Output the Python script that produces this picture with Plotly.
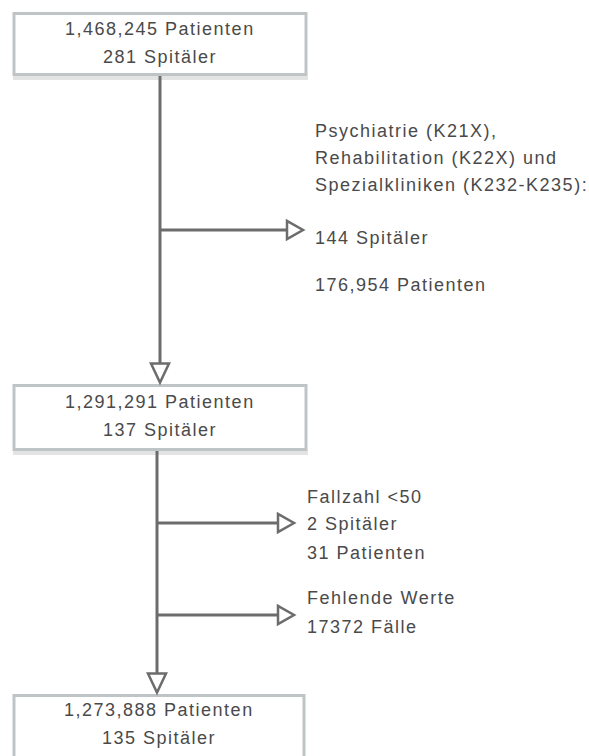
import plotly.graph_objects as go

# ---- data ----
box_patients = ["1,468,245", "1,291,291", "1,273,888"]
box_hospitals = ["281", "137", "135"]
excl1_header = ["Psychiatrie (K21X),", "Rehabilitation (K22X) und", "Spezialkliniken (K232-K235):"]
excl1_hospitals = "144"
excl1_patients = "176,954"
excl2_header = "Fallzahl <50"
excl2_hospitals = "2"
excl2_patients = "31"
excl3_header = "Fehlende Werte"
excl3_cases = "17372"

# ---- layout (pixel geometry) ----
W, H = 589, 756
BOX_X = [(14, 306), (14, 306), (14, 304)]
BOX_Y = [(13.5, 74.5), (385.5, 449.5), (695.5, 790)]
BOX_TEXT_Y = [(29, 57), (401.5, 430), (710, 737.5)]
TRUNK_X = [160, 157]
BRANCH_Y = [230, 523, 615]
BRANCH_TIP = [303, 294, 294]
TEXT_X1, TEXT_X2 = 313, 305

LINE = "#6c6c6c"
BORDER = "#bfc4c7"
SHADOW = "#e3e3e3"
TXT = "#4a4a4a"
FONT = dict(family="Liberation Sans, Arial, sans-serif", size=18, color=TXT)


def sp(t):
    return '<span style="letter-spacing:1.5px">' + t + '</span>'


fig = go.Figure()
shapes = []
ann = []

# boxes
for (x0, x1), (y0, y1), (ty1, ty2), p, h in zip(BOX_X, BOX_Y, BOX_TEXT_Y, box_patients, box_hospitals):
    shapes.append(dict(type="rect", x0=x0 - 1, x1=x1 + 2, y0=y1 + 1.5, y1=y1 + 5.5,
                       line=dict(width=0), fillcolor=SHADOW, layer="below"))
    shapes.append(dict(type="rect", x0=x0, x1=x1, y0=y0, y1=y1,
                       line=dict(color=BORDER, width=3), fillcolor="white", layer="below"))
    cx = (x0 + x1) / 2
    ann.append(dict(x=cx, y=ty1, text=sp(p + " Patienten"), xanchor="center", yanchor="middle"))
    ann.append(dict(x=cx, y=ty2, text=sp(h + " Spitäler"), xanchor="center", yanchor="middle"))


def arrow_down(x, tip):
    return dict(type="path", path=f"M {x-9},{tip-19} L {x+9},{tip-19} L {x},{tip} Z",
                line=dict(color=LINE, width=2.5), fillcolor="white")


def arrow_right(tip, y):
    return dict(type="path", path=f"M {tip-16},{y-9} L {tip-16},{y+9} L {tip},{y} Z",
                line=dict(color=LINE, width=2.5), fillcolor="white")


# trunk 1
shapes.append(dict(type="line", x0=TRUNK_X[0], x1=TRUNK_X[0], y0=BOX_Y[0][1] + 1.5, y1=BOX_Y[1][0] - 20,
                   line=dict(color=LINE, width=3)))
shapes.append(arrow_down(TRUNK_X[0], BOX_Y[1][0] - 3))
# trunk 2
shapes.append(dict(type="line", x0=TRUNK_X[1], x1=TRUNK_X[1], y0=BOX_Y[1][1] + 1.5, y1=BOX_Y[2][0] - 20,
                   line=dict(color=LINE, width=3)))
shapes.append(arrow_down(TRUNK_X[1], BOX_Y[2][0] - 3))

# branches
for i, (by, tip) in enumerate(zip(BRANCH_Y, BRANCH_TIP)):
    tx = TRUNK_X[0] if i == 0 else TRUNK_X[1]
    shapes.append(dict(type="line", x0=tx, x1=tip - 16, y0=by, y1=by, line=dict(color=LINE, width=3)))
    shapes.append(arrow_right(tip, by))

# exclusion texts
lines1 = [(excl1_header[0], 131), (excl1_header[1], 158), (excl1_header[2], 185),
          (excl1_hospitals + " Spitäler", 238), (excl1_patients + " Patienten", 285)]
for t, y in lines1:
    ann.append(dict(x=TEXT_X1, y=y, text=sp(t), xanchor="left", yanchor="middle"))
lines2 = [(excl2_header, 497), (excl2_hospitals + " Spitäler", 524), (excl2_patients + " Patienten", 553),
          (excl3_header, 598), (excl3_cases + " Fälle", 627)]
for t, y in lines2:
    ann.append(dict(x=TEXT_X2, y=y, text=sp(t), xanchor="left", yanchor="middle"))

for a in ann:
    a.update(xref="x", yref="y", showarrow=False, font=FONT)

fig.update_layout(
    width=W, height=H, margin=dict(l=0, r=0, t=0, b=0),
    paper_bgcolor="white", plot_bgcolor="white",
    xaxis=dict(range=[0, W], visible=False, fixedrange=True),
    yaxis=dict(range=[H, 0], visible=False, fixedrange=True),
    shapes=shapes, annotations=ann, showlegend=False,
)
fig.write_html("out.html", config={"displayModeBar": False},
               post_script="document.body.style.margin='0';document.body.style.overflow='hidden';")
